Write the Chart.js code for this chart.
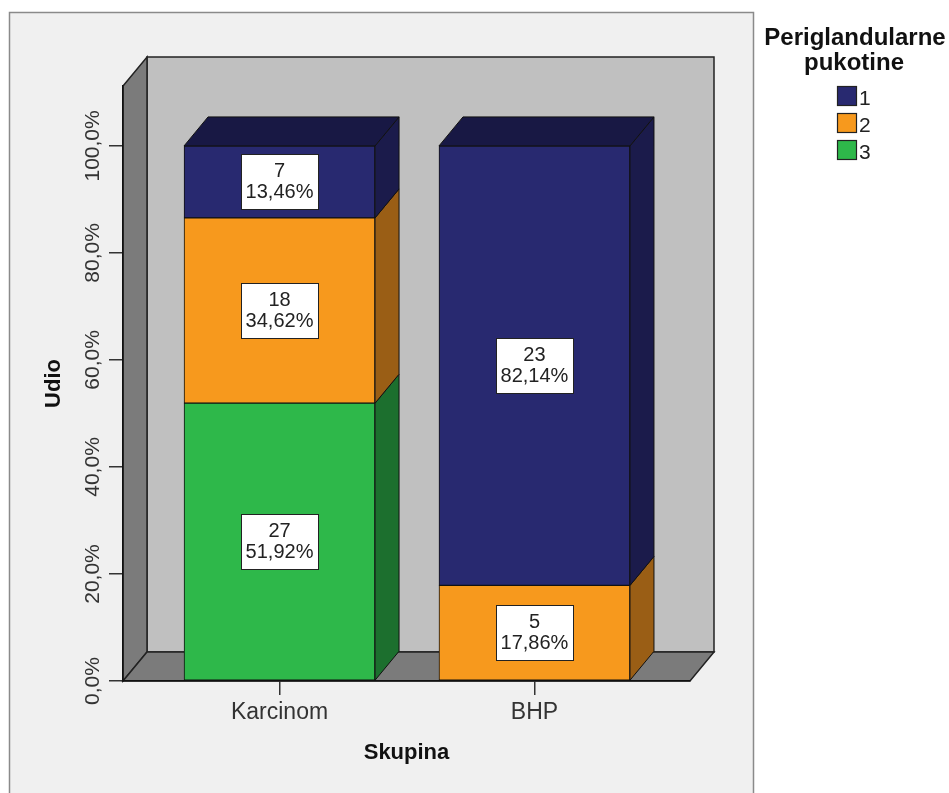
<!DOCTYPE html>
<html>
<head>
<meta charset="utf-8">
<script src="https://cdn.jsdelivr.net/npm/chart.js@4.4.1/dist/chart.umd.min.js"></script>
<style>
    html, body { margin: 0; padding: 0; background: #fff; }
</style>
</head>
<body>
<canvas id="myChart" width="949" height="793"></canvas>
<script>
//data start
const categories = ['Karcinom', 'BHP'];
const seriesNames = ['1', '2', '3'];
const counts1 = [7, 23];
const counts2 = [18, 5];
const counts3 = [27, 0];
const percent1 = [13.46, 82.14];
const percent2 = [34.62, 17.86];
const percent3 = [51.92, 0];
const yTicks = [0, 20, 40, 60, 80, 100];
//data end

const FONT = '"Liberation Sans", Arial, sans-serif';
const DX = 24;
const DY = 29;

const faceColors = ['#282970', '#f7991d', '#2eb84a'];
const sideColors = ['#1b1b4b', '#9a5e15', '#1c6f2e'];
const topColors = ['#181844', '#b06c18', '#228a38'];

const seriesCounts = [counts1, counts2, counts3];
const seriesPercent = [percent1, percent2, percent3];

// stacked bottom to top: 3, 2, 1
const datasets = seriesNames.map((name, k) => ({
    label: name,
    series: k,
    counts: seriesCounts[k],
    percents: seriesPercent[k],
    data: categories.map((c, i) => ({ x: i, y: seriesPercent[k][i] || null })),
    backgroundColor: faceColors[k],
    borderColor: '#111',
    borderWidth: 1,
    borderSkipped: false,
    barThickness: 191
})).reverse();

function poly(ctx, pts, fill, stroke, lw) {
    ctx.beginPath();
    ctx.moveTo(pts[0][0], pts[0][1]);
    for (let i = 1; i < pts.length; i++) ctx.lineTo(pts[i][0], pts[i][1]);
    ctx.closePath();
    ctx.fillStyle = fill;
    ctx.fill();
    ctx.lineWidth = lw || 1;
    ctx.strokeStyle = stroke;
    ctx.stroke();
}

const box3d = {
    id: 'box3d',
    beforeDraw(chart) {
        const ctx = chart.ctx;
        const a = chart.chartArea;
        ctx.save();
        ctx.fillStyle = '#fff';
        ctx.fillRect(0, 0, chart.width, chart.height);
        // outer frame
        ctx.fillStyle = '#f0f0f0';
        ctx.fillRect(9, 12, 744, 800);
        ctx.strokeStyle = '#8a8a8a';
        ctx.lineWidth = 1.5;
        ctx.strokeRect(9.5, 12.5, 744, 800);
        // back wall
        poly(ctx, [[a.left + DX, a.top - DY], [a.right + DX, a.top - DY], [a.right + DX, a.bottom - DY], [a.left + DX, a.bottom - DY]], '#c0c0c0', '#222', 1.5);
        // left wall
        poly(ctx, [[a.left, a.top], [a.left + DX, a.top - DY], [a.left + DX, a.bottom - DY], [a.left, a.bottom]], '#7b7b7b', '#222', 1.5);
        // floor
        poly(ctx, [[a.left, a.bottom], [a.left + DX, a.bottom - DY], [a.right + DX, a.bottom - DY], [a.right, a.bottom]], '#7b7b7b', '#222', 1.5);
        ctx.restore();
    },
    afterDatasetsDraw(chart) {
        const ctx = chart.ctx;
        const metas = chart.getSortedVisibleDatasetMetas();
        ctx.save();
        // side and top faces
        categories.forEach((c, i) => {
            let topMeta = null;
            metas.forEach(meta => {
                const ds = chart.data.datasets[meta.index];
                if (!ds.percents[i]) return;
                const el = meta.data[i];
                const p = el.getProps(['x', 'y', 'base', 'width'], true);
                const r = p.x + p.width / 2;
                poly(ctx, [[r, p.y], [r + DX, p.y - DY], [r + DX, p.base - DY], [r, p.base]], sideColors[ds.series], '#111', 1);
                topMeta = { p, ds };
            });
            if (topMeta) {
                const p = topMeta.p;
                const l = p.x - p.width / 2, r = p.x + p.width / 2;
                poly(ctx, [[l, p.y], [l + DX, p.y - DY], [r + DX, p.y - DY], [r, p.y]], topColors[topMeta.ds.series], '#111', 1);
            }
        });
        // value boxes
        ctx.font = '20px ' + FONT;
        ctx.textAlign = 'center';
        ctx.textBaseline = 'middle';
        metas.forEach(meta => {
            const ds = chart.data.datasets[meta.index];
            meta.data.forEach((el, i) => {
                if (!ds.percents[i]) return;
                const p = el.getProps(['x', 'y', 'base'], true);
                const cy = (p.y + p.base) / 2;
                const w = 77, h = 55;
                ctx.fillStyle = '#fff';
                ctx.fillRect(Math.round(p.x - w / 2) + 0.5, Math.round(cy - h / 2) + 0.5, w, h);
                ctx.strokeStyle = '#222';
                ctx.lineWidth = 1;
                ctx.strokeRect(Math.round(p.x - w / 2) + 0.5, Math.round(cy - h / 2) + 0.5, w, h);
                ctx.fillStyle = '#222';
                ctx.fillText(String(ds.counts[i]), p.x, cy - 10);
                ctx.fillText(ds.percents[i].toFixed(2).replace('.', ',') + '%', p.x, cy + 11);
            });
        });
        ctx.restore();
    },
    afterDraw(chart) {
        // legend
        const ctx = chart.ctx;
        ctx.save();
        ctx.fillStyle = '#111';
        ctx.textAlign = 'center';
        ctx.textBaseline = 'alphabetic';
        ctx.font = 'bold 24px ' + FONT;
        ctx.fillText('Periglandularne', 855, 45);
        ctx.fillText('pukotine', 854, 70);
        ctx.font = '21px ' + FONT;
        ctx.textAlign = 'left';
        seriesNames.forEach((name, k) => {
            const y = 86 + k * 27;
            ctx.fillStyle = faceColors[k];
            ctx.fillRect(837.5, y + 0.5, 19, 19);
            ctx.strokeStyle = '#222';
            ctx.lineWidth = 1.2;
            ctx.strokeRect(837.5, y + 0.5, 19, 19);
            ctx.fillStyle = '#222';
            ctx.fillText(name, 859, y + 19);
        });
        ctx.restore();
    }
};

const config = {
    type: 'bar',
    data: { datasets: datasets },
    options: {
        responsive: false,
        animation: false,
        layout: { padding: { left: 0, top: 86, right: 259, bottom: 0 } },
        plugins: {
            legend: { display: false },
            tooltip: { enabled: false }
        },
        scales: {
            x: {
                type: 'linear',
                stacked: true,
                offset: false,
                min: -0.614,
                max: 1.61,
                afterFit: s => { s.height = 112; },
                afterBuildTicks: s => { s.ticks = categories.map((c, i) => ({ value: i })); },
                ticks: {
                    callback: v => categories[v],
                    font: { size: 23, family: FONT },
                    color: '#333',
                    padding: 4,
                    maxRotation: 0,
                    autoSkip: false
                },
                grid: { offset: false, drawOnChartArea: false, tickLength: 14, color: '#333', lineWidth: 1.5 },
                border: { color: '#111', width: 1.5 },
                title: {
                    display: true,
                    text: 'Skupina',
                    font: { size: 22, weight: 'bold', family: FONT },
                    color: '#111',
                    padding: { bottom: 27 }
                }
            },
            y: {
                stacked: true,
                min: 0,
                max: 111.2,
                afterFit: s => { s.width = 123; },
                afterBuildTicks: s => { s.ticks = yTicks.map(v => ({ value: v })); },
                ticks: {
                    minRotation: 90,
                    maxRotation: 90,
                    crossAlign: 'center',
                    padding: -20,
                    color: '#333',
                    font: { size: 21, family: FONT },
                    callback: v => v.toFixed(1).replace('.', ',') + '%'
                },
                grid: { drawOnChartArea: false, tickLength: 14, color: '#333', lineWidth: 1.5 },
                border: { color: '#111', width: 1.5 },
                title: {
                    display: true,
                    text: 'Udio',
                    font: { size: 22, weight: 'bold', family: FONT },
                    color: '#111',
                    padding: { top: 41 }
                }
            }
        }
    },
    plugins: [box3d]
};

const myChart = new Chart(document.getElementById('myChart'), config);
</script>
</body>
</html>
